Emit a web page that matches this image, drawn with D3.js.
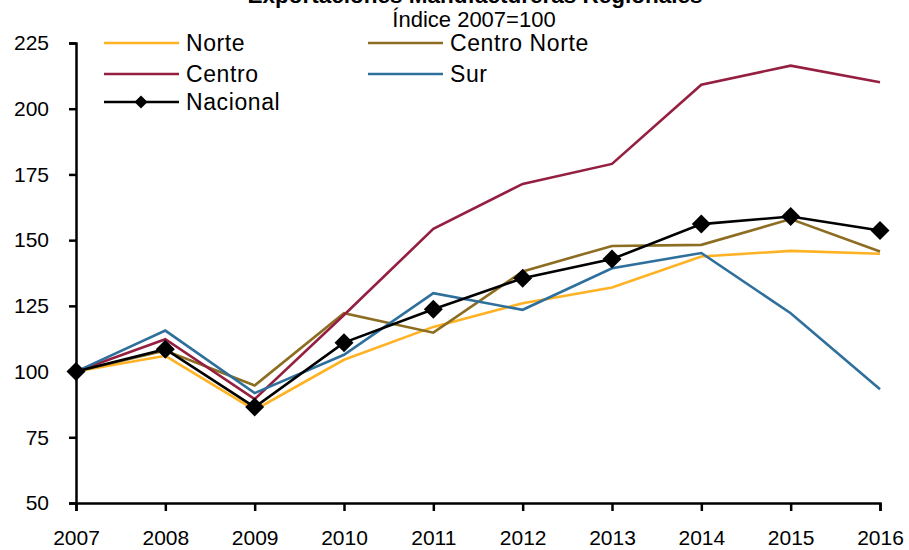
<!DOCTYPE html>
<html>
<head>
<meta charset="utf-8">
<script src="https://cdn.jsdelivr.net/npm/d3@7"></script>
<style>
  body { margin: 0; background: #fff; }
  svg { display: block; }
  .tick text { font-family: "Liberation Sans", Arial, sans-serif; font-size: 21px; fill: #000; }
</style>
</head>
<body>
<div id="chart"></div>
<script>
const years = [2007, 2008, 2009, 2010, 2011, 2012, 2013, 2014, 2015, 2016];
const norte = [100, 106, 85.4, 104.5, 117, 126, 132, 143.8, 145.9, 144.8];
const centroNorte = [100, 108, 94.7, 122.2, 114.8, 138.1, 147.8, 148.2, 158, 145.7];
const centro = [100, 112.3, 89.5, 121.5, 154.3, 171.4, 179, 209.1, 216.4, 210.1];
const sur = [100, 115.6, 91.8, 106.4, 129.8, 123.5, 139.3, 145.1, 122.2, 93.3];
const nacional = [100, 108.5, 86.5, 111, 123.7, 135.5, 142.8, 156.1, 159, 153.7];
const yTicks = [50, 75, 100, 125, 150, 175, 200, 225];

const series = [
    { name: "Norte", values: norte, color: "#FFB224" },
    { name: "Centro Norte", values: centroNorte, color: "#8C6D22" },
    { name: "Centro", values: centro, color: "#951F40" },
    { name: "Sur", values: sur, color: "#2E6F9C" },
    { name: "Nacional", values: nacional, color: "#000000", marker: true }
];

const width = 909;
const height = 550;

const svg = d3.select("#chart")
    .append("svg")
    .attr("width", width)
    .attr("height", height);

const x = d3.scalePoint()
    .domain(years)
    .range([76, 880]);

const y = d3.scaleLinear()
    .domain([50, 225])
    .range([503, 43]);

// title (top is cut off in the original)
svg.append("text")
    .attr("x", 475)
    .attr("y", 3)
    .attr("text-anchor", "middle")
    .style("font-family", "Liberation Sans, Arial, sans-serif")
    .style("font-size", "22.5px")
    .style("font-weight", "bold")
    .text("Exportaciones Manufactureras Regionales");

svg.append("text")
    .attr("x", 474)
    .attr("y", 27)
    .attr("text-anchor", "middle")
    .style("font-family", "Liberation Sans, Arial, sans-serif")
    .style("font-size", "22px")
    .text("Índice 2007=100");

// axes
const yAxis = svg.append("g")
    .attr("transform", "translate(76,0)")
    .call(d3.axisLeft(y).tickValues(yTicks).tickSize(7).tickPadding(20));

const xAxis = svg.append("g")
    .attr("transform", "translate(0,503)")
    .call(d3.axisBottom(x).tickSize(8).tickPadding(21).tickFormat(d3.format("d")));

[yAxis, xAxis].forEach(g => {
    g.select(".domain").attr("stroke", "#000").attr("stroke-width", 2.5);
    g.selectAll(".tick line").attr("stroke", "#000").attr("stroke-width", 2.5);
});

xAxis.selectAll(".tick text").attr("dy", "0.6em");

// lines
const line = d3.line()
    .x((d, i) => x(years[i]))
    .y(d => y(d));

// square turned 45 degrees = even diamond
const diamond = d3.symbol().type(d3.symbolSquare);

series.forEach(s => {
    svg.append("path")
        .datum(s.values)
        .attr("fill", "none")
        .attr("stroke", s.color)
        .attr("stroke-width", 2.6)
        .attr("stroke-linejoin", "miter")
        .attr("d", line);

    if (s.marker) {
        svg.selectAll(".mk")
            .data(s.values)
            .enter()
            .append("path")
            .attr("d", diamond.size(180))
            .attr("transform", (d, i) => `translate(${x(years[i])},${y(d)}) rotate(45)`)
            .attr("fill", s.color);
    }
});

// legend
const legendItems = [
    { s: series[0], lx: 104, ly: 43 },
    { s: series[1], lx: 368, ly: 43 },
    { s: series[2], lx: 104, ly: 74 },
    { s: series[3], lx: 368, ly: 74 },
    { s: series[4], lx: 104, ly: 102 }
];

const legend = svg.append("g");
legendItems.forEach(it => {
    const g = legend.append("g").attr("transform", `translate(${it.lx},${it.ly})`);
    g.append("line")
        .attr("x1", 0).attr("x2", 75)
        .attr("stroke", it.s.color)
        .attr("stroke-width", 2.6);
    if (it.s.marker) {
        g.append("path")
            .attr("d", diamond.size(85))
            .attr("transform", "translate(37,0) rotate(45)")
            .attr("fill", it.s.color);
    }
    g.append("text")
        .attr("x", 82)
        .attr("dy", "0.35em")
        .style("font-family", "Liberation Sans, Arial, sans-serif")
        .style("font-size", "23px")
        .style("letter-spacing", "0.6px")
        .text(it.s.name);
});
</script>
</body>
</html>
